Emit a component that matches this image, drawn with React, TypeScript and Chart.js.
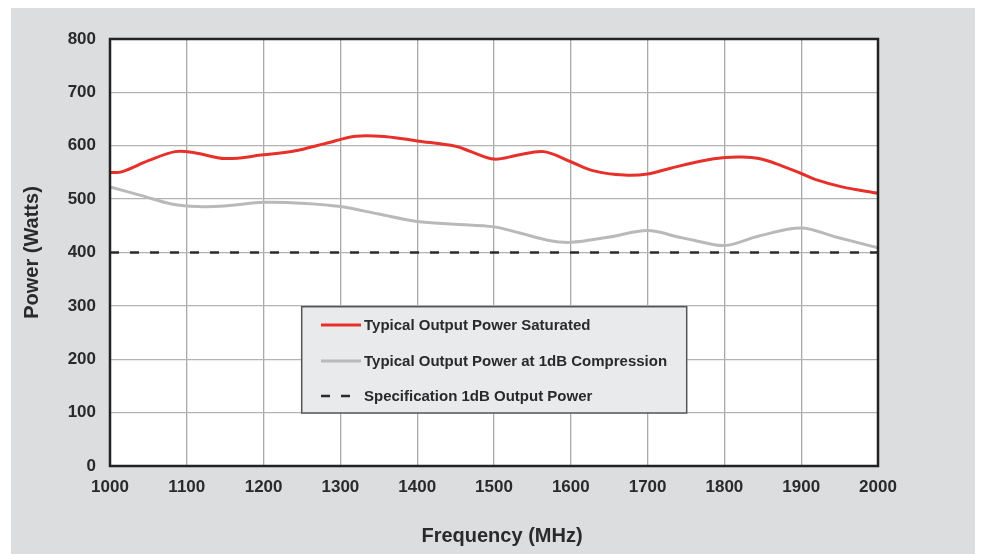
import React, { useEffect, useRef } from "react";
import { Chart, registerables } from "chart.js";

Chart.register(...registerables);

const xTicks = [1000, 1100, 1200, 1300, 1400, 1500, 1600, 1700, 1800, 1900, 2000];
const yTicks = [0, 100, 200, 300, 400, 500, 600, 700, 800];

const satFreq = [1000, 1015, 1050, 1085, 1110, 1150, 1200, 1240, 1280, 1320, 1360, 1400, 1450, 1470, 1500, 1530, 1565, 1600, 1630, 1670, 1700, 1730, 1772, 1801, 1823, 1845, 1866, 1900, 1918, 1953, 2000];
const satPower = [550, 551, 572, 589, 587, 576, 583, 590, 604, 618, 617, 609, 599, 589, 575, 582, 589, 570, 553, 545, 547, 558, 572, 578, 579, 576, 567, 548, 537, 523, 511];

const compFreq = [1000, 1040, 1080, 1115, 1155, 1200, 1255, 1300, 1350, 1400, 1450, 1500, 1535, 1570, 1600, 1650, 1700, 1740, 1760, 1800, 1845, 1900, 1945, 2000];
const compPower = [523, 507, 491, 486, 488, 494, 492, 486, 472, 458, 453, 448, 436, 423, 419, 429, 441, 429, 423, 413, 431, 446, 429, 409];

const specFreq = [1000, 2000];
const specPower = [400, 400];

const seriesLabels = [
  "Typical Output Power Saturated",
  "Typical Output Power at 1dB Compression",
  "Specification 1dB Output Power",
];
const xTitle = "Frequency (MHz)";
const yTitle = "Power (Watts)";

const FONT = "'Liberation Sans', Arial, Helvetica, sans-serif";
const TEXT = "#2a2a2a";
const PANEL = "#dcdddf";
const AREA = "#ffffff";

const areaPlugin = {
  id: "areaBg",
  beforeDraw(chart: any) {
    const { ctx, chartArea, width, height } = chart;
    ctx.save();
    ctx.fillStyle = PANEL;
    ctx.fillRect(0, 0, width, height);
    if (chartArea) {
      ctx.fillStyle = AREA;
      ctx.fillRect(chartArea.left, chartArea.top, chartArea.right - chartArea.left, chartArea.bottom - chartArea.top);
    }
    ctx.restore();
  },
};

const framePlugin = {
  id: "frame",
  afterDatasetsDraw(chart: any) {
    const { ctx, chartArea } = chart;
    ctx.save();
    ctx.strokeStyle = "#222";
    ctx.lineWidth = 2.5;
    ctx.strokeRect(chartArea.left, chartArea.top, chartArea.right - chartArea.left, chartArea.bottom - chartArea.top);
    ctx.restore();
  },
};

const xTitlePlugin = {
  id: "xTitle",
  afterDraw(chart: any) {
    const { ctx, chartArea } = chart;
    ctx.save();
    ctx.fillStyle = TEXT;
    ctx.font = `bold 20px ${FONT}`;
    ctx.textAlign = "center";
    ctx.textBaseline = "middle";
    ctx.fillText(xTitle, (chartArea.left + chartArea.right) / 2 + 8, chartArea.bottom + 70);
    ctx.restore();
  },
};

const legendPlugin = {
  id: "boxLegend",
  afterDraw(chart: any) {
    const { ctx, chartArea } = chart;
    const bx = chartArea.left + 191.7;
    const by = chartArea.top + 267.7;
    const bw = 385;
    const bh = 106.3;
    ctx.save();
    ctx.fillStyle = "#e9eaec";
    ctx.fillRect(bx, by, bw, bh);
    ctx.strokeStyle = "#555";
    ctx.lineWidth = 1.5;
    ctx.strokeRect(bx, by, bw, bh);
    const rows = [18.3, 54.3, 89.3];
    chart.data.datasets.forEach((ds: any, i: number) => {
      const y = by + rows[i];
      ctx.beginPath();
      ctx.strokeStyle = ds.borderColor;
      ctx.lineWidth = ds.borderWidth;
      ctx.setLineDash(ds.borderDash || []);
      ctx.lineDashOffset = 0;
      ctx.moveTo(bx + 19.3, y);
      ctx.lineTo(bx + 59.3, y);
      ctx.stroke();
      ctx.setLineDash([]);
      ctx.fillStyle = TEXT;
      ctx.font = `bold 15px ${FONT}`;
      ctx.textBaseline = "middle";
      ctx.textAlign = "left";
      ctx.fillText(ds.label, bx + 62.3, y + 1);
    });
    ctx.restore();
  },
};

export default function App() {
  const ref = useRef<HTMLCanvasElement | null>(null);

  useEffect(() => {
    document.body.style.margin = "0";
    if (!ref.current) return;
    const toPts = (xs: number[], ys: number[]) => xs.map((x, i) => ({ x, y: ys[i] }));
    const chart = new Chart(ref.current, {
      type: "line",
      data: {
        datasets: [
          {
            label: seriesLabels[0],
            data: toPts(satFreq, satPower),
            borderColor: "#e8302a",
            borderWidth: 3,
            pointRadius: 0,
            tension: 0.35,
            fill: false,
          },
          {
            label: seriesLabels[1],
            data: toPts(compFreq, compPower),
            borderColor: "#b9b9b9",
            borderWidth: 3,
            pointRadius: 0,
            tension: 0.35,
            fill: false,
          },
          {
            label: seriesLabels[2],
            data: toPts(specFreq, specPower),
            borderColor: "#2b2b2b",
            borderWidth: 2.7,
            borderDash: [9, 11],
            pointRadius: 0,
            fill: false,
          },
        ],
      } as any,
      options: {
        animation: false,
        responsive: false,
        layout: { padding: { left: 0, top: 31, right: 97, bottom: 0 } },
        plugins: {
          legend: { display: false },
          tooltip: { enabled: false },
        },
        scales: {
          x: {
            type: "linear",
            min: 1000,
            max: 2000,
            afterFit: (s: any) => {
              s.height = 88;
            },
            afterBuildTicks: (s: any) => {
              s.ticks = xTicks.map((v) => ({ value: v }));
            },
            grid: { color: "#a9a9a9", lineWidth: 1.3, drawTicks: false },
            border: { display: false },
            ticks: {
              padding: 11,
              color: TEXT,
              font: { family: FONT, size: 17, weight: "bold" },
              callback: (v: any) => String(v),
            },
            title: { display: false },
          },
          y: {
            type: "linear",
            min: 0,
            max: 800,
            afterFit: (s: any) => {
              s.width = 99;
            },
            afterBuildTicks: (s: any) => {
              s.ticks = yTicks.map((v) => ({ value: v }));
            },
            grid: { color: "#b3b3b3", lineWidth: 1.3, drawTicks: false },
            border: { display: false },
            ticks: {
              padding: 14,
              color: TEXT,
              font: { family: FONT, size: 17, weight: "bold" },
              callback: (v: any) => String(v),
            },
            title: {
              display: true,
              text: yTitle,
              color: TEXT,
              font: { family: FONT, size: 20, weight: "bold" },
              padding: { top: 9.5, bottom: 0 },
            },
          },
        },
      } as any,
      plugins: [areaPlugin, framePlugin, xTitlePlugin, legendPlugin],
    });
    return () => chart.destroy();
  }, []);

  return (
    <div style={{ position: "relative", width: 982, height: 554, background: "#ffffff", overflow: "hidden" }}>
      <div style={{ position: "absolute", left: 11, top: 8, width: 964, height: 546 }}>
        <canvas ref={ref} width={964} height={546} style={{ display: "block", width: 964, height: 546 }} />
      </div>
    </div>
  );
}
